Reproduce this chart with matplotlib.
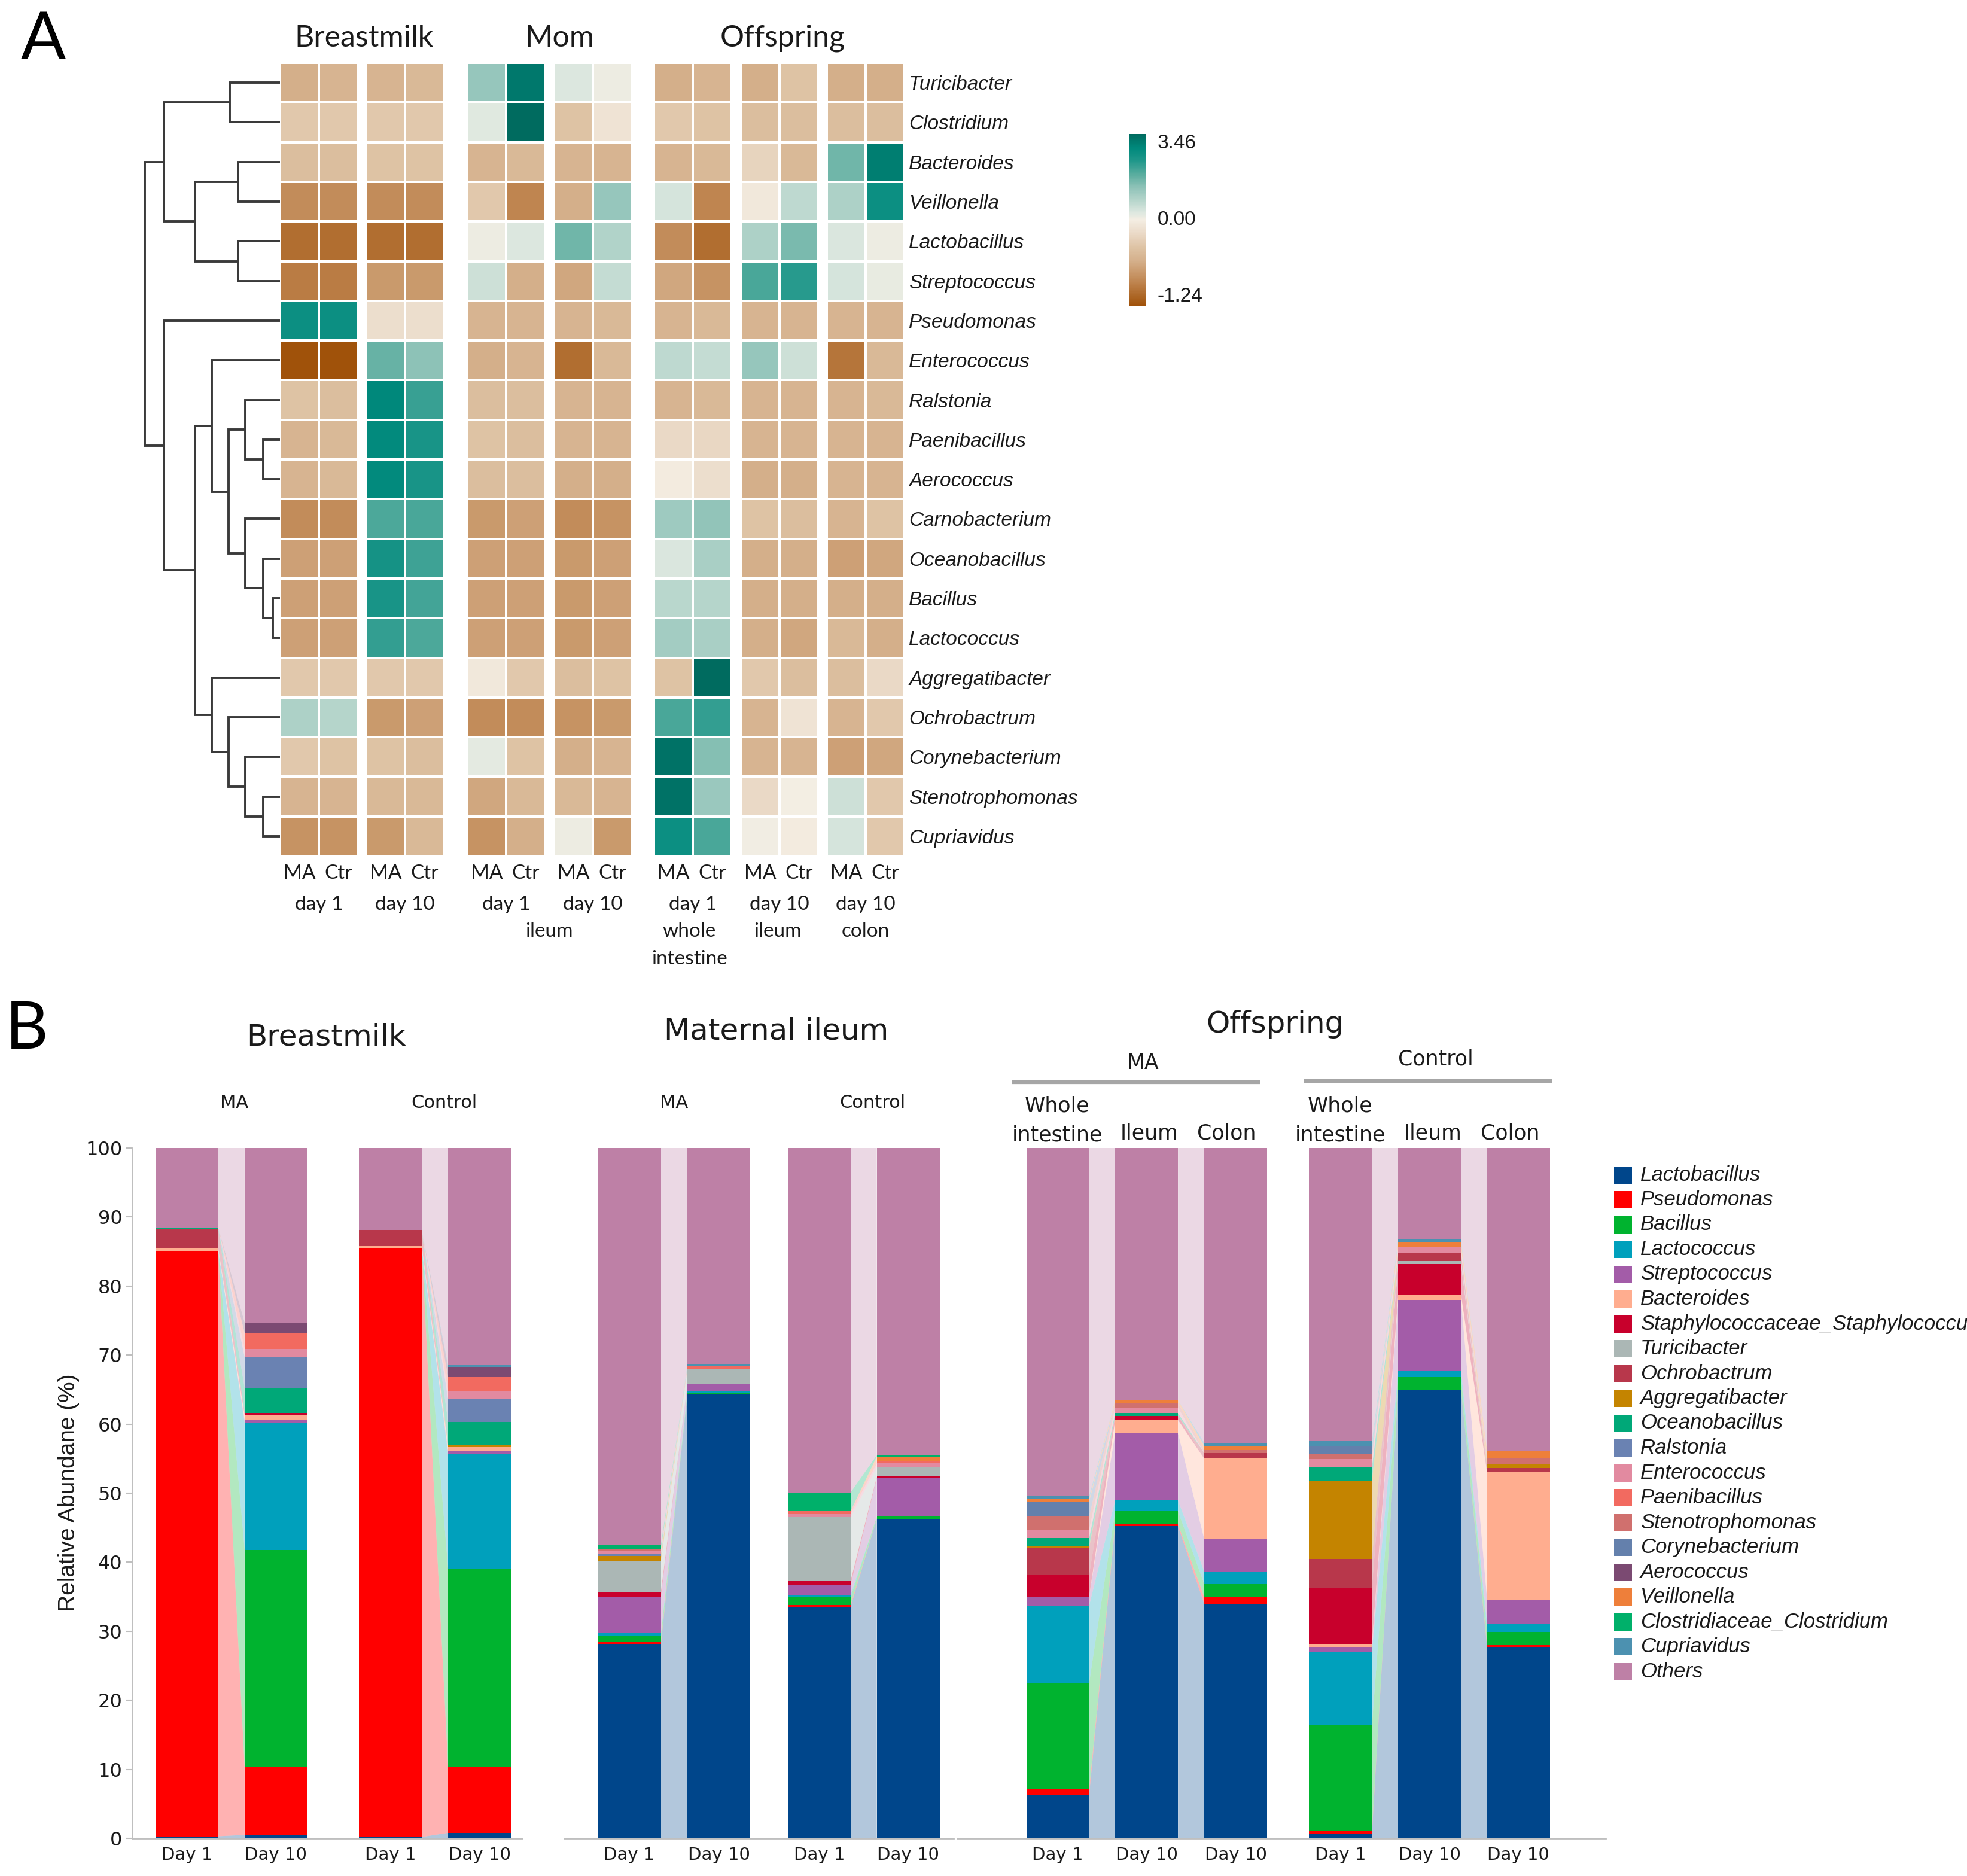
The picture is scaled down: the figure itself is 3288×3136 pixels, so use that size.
import numpy as np
import matplotlib
matplotlib.use("Agg")
import matplotlib.pyplot as plt
from matplotlib.colors import LinearSegmentedColormap, TwoSlopeNorm
from matplotlib.cm import ScalarMappable
from matplotlib.patches import Rectangle

W, H = 3288, 3136

# ---------------- panel A: z-score heatmap ----------------
genera = ["Turicibacter", "Clostridium", "Bacteroides", "Veillonella", "Lactobacillus",
          "Streptococcus", "Pseudomonas", "Enterococcus", "Ralstonia", "Paenibacillus",
          "Aerococcus", "Carnobacterium", "Oceanobacillus", "Bacillus", "Lactococcus",
          "Aggregatibacter", "Ochrobactrum", "Corynebacterium", "Stenotrophomonas", "Cupriavidus"]

# each group: one [MA, Ctr] pair per genus
hm_milk_d1 = [[-0.6, -0.55], [-0.35, -0.35], [-0.45, -0.45], [-0.85, -0.85], [-1.05, -1.05],
              [-0.95, -0.95], [2.7, 2.7], [-1.24, -1.24], [-0.4, -0.45], [-0.55, -0.5],
              [-0.55, -0.5], [-0.85, -0.85], [-0.7, -0.7], [-0.7, -0.7], [-0.7, -0.7],
              [-0.35, -0.35], [0.9, 0.8], [-0.35, -0.4], [-0.55, -0.55], [-0.8, -0.8]]
hm_milk_d10 = [[-0.55, -0.5], [-0.35, -0.35], [-0.4, -0.4], [-0.85, -0.85], [-1.05, -1.05],
               [-0.75, -0.75], [-0.15, -0.15], [1.7, 1.3], [2.9, 2.15], [2.85, 2.5],
               [2.85, 2.5], [1.95, 2.0], [2.55, 2.1], [2.5, 2.05], [2.2, 1.95],
               [-0.35, -0.35], [-0.75, -0.7], [-0.4, -0.45], [-0.5, -0.5], [-0.75, -0.5]]
hm_mom_d1 = [[1.2, 3.2], [0.25, 3.46], [-0.55, -0.5], [-0.35, -0.9], [0.1, 0.3],
             [0.5, -0.6], [-0.55, -0.55], [-0.6, -0.55], [-0.45, -0.45], [-0.4, -0.45],
             [-0.45, -0.45], [-0.75, -0.7], [-0.7, -0.7], [-0.7, -0.7], [-0.7, -0.7],
             [-0.05, -0.35], [-0.85, -0.85], [0.2, -0.4], [-0.65, -0.5], [-0.8, -0.6]]
hm_mom_d10 = [[0.3, 0.1], [-0.4, -0.1], [-0.55, -0.55], [-0.6, 1.2], [1.6, 0.85],
              [-0.65, 0.6], [-0.55, -0.5], [-1.05, -0.5], [-0.55, -0.55], [-0.55, -0.55],
              [-0.6, -0.6], [-0.85, -0.8], [-0.75, -0.7], [-0.75, -0.7], [-0.75, -0.7],
              [-0.45, -0.4], [-0.8, -0.75], [-0.6, -0.55], [-0.5, -0.55], [0.1, -0.75]]
hm_off_d1 = [[-0.6, -0.55], [-0.35, -0.4], [-0.55, -0.5], [0.4, -0.9], [-0.85, -1.05],
             [-0.65, -0.8], [-0.55, -0.5], [0.7, 0.6], [-0.55, -0.5], [-0.2, -0.22],
             [-0.02, -0.15], [1.1, 1.25], [0.35, 0.95], [0.75, 0.8], [1.05, 0.95],
             [-0.4, 3.46], [2.0, 2.2], [3.3, 1.4], [3.3, 1.15], [2.7, 2.0]]
hm_off_ileum = [[-0.6, -0.4], [-0.45, -0.45], [-0.25, -0.5], [-0.05, 0.7], [0.9, 1.5],
                [2.0, 2.3], [-0.55, -0.55], [1.2, 0.5], [-0.55, -0.55], [-0.55, -0.55],
                [-0.6, -0.6], [-0.4, -0.45], [-0.6, -0.6], [-0.6, -0.6], [-0.6, -0.65],
                [-0.35, -0.45], [-0.55, -0.1], [-0.55, -0.55], [-0.2, 0.0], [0.05, -0.02]]
hm_off_colon = [[-0.6, -0.6], [-0.45, -0.45], [1.6, 3.1], [0.9, 2.7], [0.35, 0.1],
                [0.4, 0.15], [-0.55, -0.55], [-1.0, -0.5], [-0.55, -0.5], [-0.55, -0.55],
                [-0.55, -0.55], [-0.55, -0.4], [-0.7, -0.65], [-0.6, -0.6], [-0.5, -0.6],
                [-0.45, -0.2], [-0.55, -0.35], [-0.7, -0.65], [0.5, -0.35], [0.4, -0.35]]

hm_groups = [hm_milk_d1, hm_milk_d10, hm_mom_d1, hm_mom_d10, hm_off_d1, hm_off_ileum, hm_off_colon]
hm_day_labels = ["day 1", "day 10", "day 1", "day 10", "day 1", "day 10", "day 10"]

# row dendrogram: (child a, child b, merge height); new clusters numbered from 20
merges = [(13, 14, 12), (9, 10, 28), (12, 20, 28), (18, 19, 28), (8, 21, 58), (11, 22, 58),
          (17, 23, 58), (2, 3, 70), (4, 5, 70), (0, 1, 84), (24, 25, 86), (16, 26, 86),
          (7, 30, 114), (15, 31, 114), (27, 28, 142), (32, 33, 142), (29, 34, 194),
          (6, 35, 194), (36, 37, 226)]

# ---------------- panel B: relative abundance ----------------
taxa = ["Lactobacillus", "Pseudomonas", "Bacillus", "Lactococcus", "Streptococcus", "Bacteroides",
        "Staphylococcaceae_Staphylococcus", "Turicibacter", "Ochrobactrum", "Aggregatibacter",
        "Oceanobacillus", "Ralstonia", "Enterococcus", "Paenibacillus", "Stenotrophomonas",
        "Corynebacterium", "Aerococcus", "Veillonella", "Clostridiaceae_Clostridium",
        "Cupriavidus", "Others"]
taxa_colors = ["#00468B", "#FF0000", "#00B32F", "#00A0BC", "#A35CA8", "#FFAD8F", "#C8002C",
               "#ABB7B5", "#B8374B", "#C48400", "#00A878", "#6A82B2", "#E28AA0", "#F26A60",
               "#D0706E", "#6480AC", "#7B4A72", "#EE7F3A", "#00B06A", "#4C91B0", "#BE80A6"]

#                 Lac   Pse   Bac   Lcc   Str  Bact  Sta  Tur  Och   Agg  Oce  Ral  Ent  Pae  Ste  Cor  Aer  Vei  Clo  Cup  Oth
milk_ma_d1   = [0.3, 84.8, 0, 0, 0, 0.3, 0, 0, 2.9, 0, 0.2, 0, 0, 0, 0, 0, 0, 0, 0, 0, 11.5]
milk_ma_d10  = [0.5, 9.8, 31.5, 18.4, 0.4, 0.7, 0.3, 0, 0, 0, 3.6, 4.5, 1.2, 2.3, 0, 0, 1.5, 0, 0, 0, 25.3]
milk_ct_d1   = [0.2, 85.3, 0, 0, 0, 0.3, 0, 0, 2.3, 0, 0, 0, 0, 0, 0, 0, 0, 0, 0, 0, 11.9]
milk_ct_d10  = [0.8, 9.5, 28.7, 16.6, 0.5, 0.6, 0, 0, 0, 0.3, 3.3, 3.3, 1.2, 2.0, 0, 0, 1.5, 0, 0, 0.3, 31.4]
mom_ma_d1    = [28.1, 0.3, 1.0, 0.4, 5.2, 0, 0.7, 4.4, 0, 0.8, 0, 0.3, 0.4, 0, 0.3, 0, 0, 0, 0.6, 0, 57.5]
mom_ma_d10   = [64.3, 0, 0.3, 0.2, 1.1, 0, 0, 2.1, 0, 0, 0, 0, 0, 0.4, 0, 0, 0, 0, 0, 0.3, 31.3]
mom_ct_d1    = [33.5, 0.3, 1.1, 0.4, 1.4, 0, 0.6, 9.2, 0, 0, 0, 0, 0.5, 0.4, 0, 0, 0, 0, 2.7, 0, 49.9]
mom_ct_d10   = [46.3, 0, 0.3, 0, 5.6, 0, 0.2, 1.3, 0, 0, 0, 0, 0.6, 0.4, 0, 0, 0, 0.6, 0.2, 0, 44.5]
off_ma_whole = [6.3, 0.8, 15.4, 11.2, 1.3, 0, 3.2, 0, 3.9, 0.2, 1.2, 0, 1.2, 0, 1.9, 2.2, 0, 0.3, 0, 0.5, 50.4]
off_ma_ileum = [45.2, 0.3, 1.9, 1.6, 9.7, 1.9, 0.6, 0, 0, 0, 0.4, 0, 0.8, 0, 0.7, 0, 0, 0.4, 0, 0, 36.5]
off_ma_colon = [33.9, 1.0, 1.9, 1.8, 4.7, 11.7, 0, 0, 0.8, 0, 0, 0, 0, 0, 0.4, 0, 0, 0.6, 0, 0.5, 42.7]
off_ct_whole = [0.65, 0.4, 15.3, 10.7, 0.6, 0.4, 8.3, 0, 4.1, 11.4, 1.9, 0, 1.2, 0, 0.7, 1.1, 0, 0, 0, 0.8, 42.45]
off_ct_ileum = [64.9, 0, 1.9, 1.0, 10.2, 0.7, 4.5, 0.4, 1.2, 0, 0, 0, 0.8, 0, 0, 0, 0, 0.8, 0, 0.4, 13.2]
off_ct_colon = [27.7, 0.3, 1.9, 1.2, 3.5, 18.4, 0, 0, 0.6, 0.6, 0, 0, 0, 0, 0.8, 0, 0, 1.1, 0, 0, 43.9]

milk_bars = [milk_ma_d1, milk_ma_d10, milk_ct_d1, milk_ct_d10]
mom_bars = [mom_ma_d1, mom_ma_d10, mom_ct_d1, mom_ct_d10]
off_bars = [off_ma_whole, off_ma_ileum, off_ma_colon, off_ct_whole, off_ct_ileum, off_ct_colon]
milk_days = ["Day 1", "Day 10", "Day 1", "Day 10"]
mom_days = ["Day 1", "Day 10", "Day 1", "Day 10"]
off_days = ["Day 1", "Day 10", "Day 10", "Day 1", "Day 10", "Day 10"]

TXT = "#1a1a1a"
fig = plt.figure(figsize=(W / 100, H / 100), dpi=100)


def px_axes(left, top, right, bottom):
    return fig.add_axes([left / W, 1 - bottom / H, (right - left) / W, (bottom - top) / H])


# ---- dendrogram
ax_d = px_axes(232, 105, 468, 1431)
node = {i: (0.0, i + 0.5) for i in range(len(genera))}
for k, (a, b, h) in enumerate(merges):
    xa, ya = node[a]
    xb, yb = node[b]
    ax_d.plot([xa, h, h, xb], [ya, ya, yb, yb], color="#3a3a3a", lw=2.8,
              solid_joinstyle="miter", solid_capstyle="butt")
    node[len(genera) + k] = (h, (ya + yb) / 2)
ax_d.set_xlim(236, 0)
ax_d.set_ylim(len(genera), 0)
ax_d.axis("off")

# ---- heatmap
stops = [0.0, 0.137, 0.258, 0.339, 0.419, 0.5, 0.543, 0.616, 0.688, 0.76, 0.847, 0.919, 1.0]
cols = ["#A0520A", "#BF8550", "#D4AF8A", "#DEC3A5", "#EAD9C6", "#F4EEE3", "#DDE8E0",
        "#B5D5CB", "#8FC3B8", "#5DAEA0", "#1F978A", "#00897C", "#006B5F"]
cmap = LinearSegmentedColormap.from_list("brbg_like", list(zip(stops, cols)))
norm = TwoSlopeNorm(vmin=-1.24, vcenter=0, vmax=3.46)

ax_h = px_axes(468, 105, 1511, 1431)
group_x = [0, 144, 313, 458, 625, 770, 914]
cell = 65
rows = np.arange(len(genera) + 1)
for g, x0 in zip(hm_groups, group_x):
    ax_h.pcolormesh([x0, x0 + cell, x0 + 2 * cell], rows, np.array(g), cmap=cmap, norm=norm,
                    edgecolors="white", linewidth=1.6)
ax_h.set_xlim(0, 1043)
ax_h.set_ylim(len(genera), 0)
ax_h.set_xticks([])
ax_h.set_yticks(np.arange(len(genera)) + 0.5)
ax_h.set_yticklabels(genera, fontsize=24, style="italic", family="Liberation Sans", color=TXT)
ax_h.yaxis.tick_right()
ax_h.tick_params(axis="y", length=0, pad=6)
for s in ax_h.spines.values():
    s.set_visible(False)

# ---- colorbar
cax = px_axes(1887, 224, 1915, 511)
cb = fig.colorbar(ScalarMappable(norm=norm, cmap=cmap), cax=cax, ticks=[-1.24, 0, 3.46])
cb.set_ticklabels(["-1.24", "0.00", "3.46"])
cb.outline.set_visible(False)
cax.tick_params(length=0, pad=14, labelsize=24, labelcolor=TXT)
for t, va in zip(cax.get_yticklabels(), ["bottom", "center", "top"]):
    t.set_family("Liberation Sans")
    t.set_verticalalignment(va)


# ---- panel B bars with flows
def draw_bars(ax, bars, centers, links, days):
    data = np.array(bars, dtype=float)
    bottoms = np.cumsum(data, axis=1) - data
    for k in range(len(taxa)):
        ax.bar(centers, data[:, k], bottom=bottoms[:, k], width=1.0,
               color=taxa_colors[k], linewidth=0, zorder=3)
    for i, j in links:
        for k in range(len(taxa)):
            if data[i, k] == 0 and data[j, k] == 0:
                continue
            xs = [centers[i] + 0.5, centers[j] - 0.5, centers[j] - 0.5, centers[i] + 0.5]
            ys = [bottoms[i, k], bottoms[j, k], bottoms[j, k] + data[j, k],
                  bottoms[i, k] + data[i, k]]
            ax.fill(xs, ys, color=taxa_colors[k], alpha=0.3, lw=0, zorder=2)
    ax.set_ylim(0, 100)
    ax.set_xticks(centers)
    ax.set_xticklabels(days, fontsize=21, family="DejaVu Sans", color=TXT)
    ax.tick_params(axis="x", length=0, pad=10)
    for side in ["top", "right", "left"]:
        ax.spines[side].set_visible(False)
    ax.spines["bottom"].set_color("#BFBFBF")
    ax.spines["bottom"].set_linewidth(2)
    ax.set_yticks([])


ax_m = px_axes(221, 1919, 873, 3073)
draw_bars(ax_m, milk_bars, [0, 1.42, 3.24, 4.66], [(0, 1), (2, 3)], milk_days)
ax_m.set_xlim(-0.87, 5.34)
ax_m.spines["left"].set_visible(True)
ax_m.spines["left"].set_color("#BFBFBF")
ax_m.spines["left"].set_linewidth(2)
ax_m.set_yticks(range(0, 101, 10))
ax_m.tick_params(axis="y", length=8, width=1.5, color="#BFBFBF", labelsize=23,
                 labelcolor=TXT, pad=4)
for t in ax_m.get_yticklabels():
    t.set_family("DejaVu Sans")

ax_i = px_axes(943, 1919, 1594, 3073)
draw_bars(ax_i, mom_bars, [0, 1.424, 3.02, 4.438], [(0, 1), (2, 3)], mom_days)
ax_i.set_xlim(-1.04, 5.16)

ax_o = px_axes(1600, 1919, 2684, 3073)
draw_bars(ax_o, off_bars, [0, 1.414, 2.833, 4.5, 5.919, 7.333],
          [(0, 1), (1, 2), (3, 4), (4, 5)], off_days)
ax_o.set_xlim(-1.6, 8.72)

# ---- overlay for free text, in pixel coordinates
ov = fig.add_axes([0, 0, 1, 1])
ov.set_xlim(0, W)
ov.set_ylim(H, 0)
ov.axis("off")
ov.patch.set_visible(False)

ov.text(72, 68, "A", fontsize=80, family="Lato", color="black", ha="center", va="center")
ov.text(45, 1722, "B", fontsize=80, family="Lato", color="black", ha="center", va="center")

for label, x in [("Breastmilk", 608), ("Mom", 935), ("Offspring", 1308)]:
    ov.text(x, 64, label, fontsize=36, family="Lato", color=TXT, ha="center", va="center")

for x0, day in zip(group_x, hm_day_labels):
    cx = 468 + x0
    ov.text(cx + cell * 0.5, 1460, "MA", fontsize=24, family="Lato", color=TXT, ha="center", va="center")
    ov.text(cx + cell * 1.5, 1460, "Ctr", fontsize=24, family="Lato", color=TXT, ha="center", va="center")
    ov.text(cx + cell, 1512, day, fontsize=24, family="Lato", color=TXT, ha="center", va="center")
for label, x, y in [("ileum", 918, 1557), ("whole", 1152, 1557), ("intestine", 1152, 1603),
                    ("ileum", 1300, 1557), ("colon", 1447, 1557)]:
    ov.text(x, y, label, fontsize=24, family="Lato", color=TXT, ha="center", va="center")

# panel B headings
for label, x, y in [("Breastmilk", 545, 1733), ("Maternal ileum", 1298, 1723), ("Offspring", 2131, 1712)]:
    ov.text(x, y, label, fontsize=36, family="DejaVu Sans", color=TXT, ha="center", va="center")
for label, x in [("MA", 392), ("Control", 742), ("MA", 1127), ("Control", 1458)]:
    ov.text(x, 1843, label, fontsize=22, family="DejaVu Sans", color=TXT, ha="center", va="center")
ov.text(1910, 1777, "MA", fontsize=25, family="DejaVu Sans", color=TXT, ha="center", va="center")
ov.text(2400, 1770, "Control", fontsize=25, family="DejaVu Sans", color=TXT, ha="center", va="center")
ov.plot([1691, 2106], [1809, 1809], color="#A6A6A6", lw=4.5, solid_capstyle="butt")
ov.plot([2179, 2595], [1807, 1807], color="#A6A6A6", lw=4.5, solid_capstyle="butt")
for label, x, y in [("Whole", 1767, 1848), ("intestine", 1767, 1897), ("Ileum", 1921, 1894),
                    ("Colon", 2050, 1894), ("Whole", 2240, 1848), ("intestine", 2240, 1897),
                    ("Ileum", 2395, 1894), ("Colon", 2524, 1894)]:
    ov.text(x, y, label, fontsize=25, family="DejaVu Sans", color=TXT, ha="center", va="center")

ov.text(115, 2495, "Relative Abundane (%)", fontsize=28, family="Liberation Sans", color=TXT,
        rotation=90, ha="center", va="center")

# legend
for k, (name, col) in enumerate(zip(taxa, taxa_colors)):
    y = 1964 + 41.5 * k
    ov.add_patch(Rectangle((2698, y - 14.5), 30, 29, color=col, lw=0))
    ov.text(2742, y, name, fontsize=25, style="italic", family="Liberation Sans", color=TXT,
            ha="left", va="center")

fig.savefig("out.png", dpi=100)
